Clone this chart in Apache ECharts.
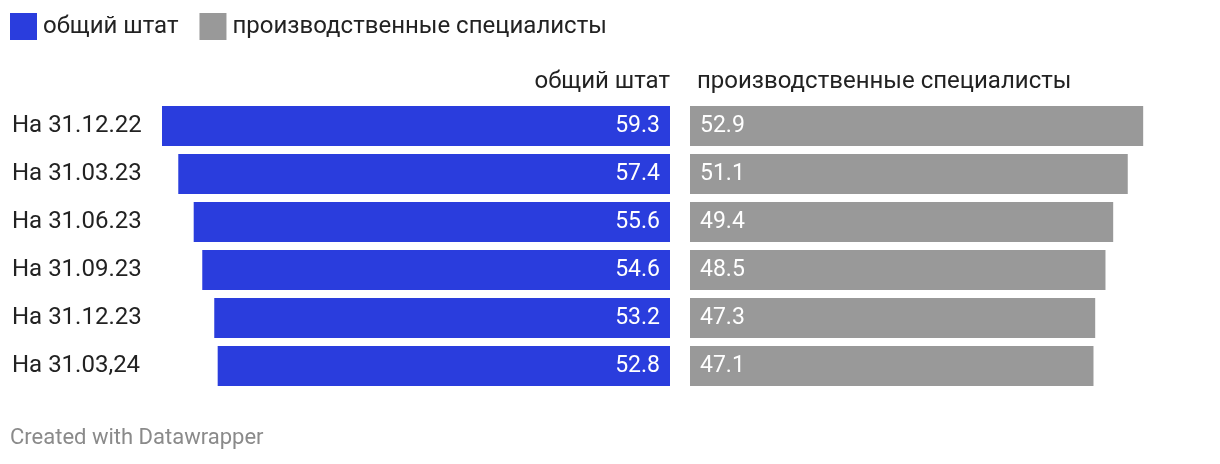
<!DOCTYPE html>
<html>
<head>
<meta charset="utf-8">
<script src="https://cdn.jsdelivr.net/npm/echarts@6/dist/echarts.min.js"></script>
<style>
html,body{margin:0;padding:0;background:#fff;}
#chart{width:1220px;height:464px;}
</style>
</head>
<body>
<div id="chart"></div>
<script>
const categories = ['На 31.12.22','На 31.03.23','На 31.06.23','На 31.09.23','На 31.12.23','На 31.03,24'];
const seriesNames = ['общий штат','производственные специалисты'];
const totalStaff = [59.3, 57.4, 55.6, 54.6, 53.2, 52.8];
const productionStaff = [52.9, 51.1, 49.4, 48.5, 47.3, 47.1];
const footerText = 'Created with Datawrapper';

const FONT = 'Roboto, "Noto Sans", sans-serif';
const BLUE = '#2a3ddd';
const GRAY = '#999999';
const maxVal = Math.max(...totalStaff, ...productionStaff);

const chart = echarts.init(document.getElementById('chart'), null, {renderer:'canvas'});
const gridTop = 102, gridH = 288, gridW = 508;

chart.setOption({
  animation: false,
  backgroundColor: '#ffffff',
  textStyle: {fontFamily: FONT},
  legend: {
    left: 10, top: 13, padding: 0,
    itemWidth: 27, itemHeight: 27, itemGap: 21,
    icon: 'rect',
    textStyle: {fontSize: 24, color: '#222', fontFamily: FONT, padding:[0,0,0,1]},
    data: seriesNames
  },
  grid: [
    {left: 162, top: gridTop, width: gridW, height: gridH},
    {left: 690, top: gridTop, width: gridW, height: gridH}
  ],
  xAxis: [
    {gridIndex: 0, type: 'value', min: 0, max: maxVal, inverse: true, show: false},
    {gridIndex: 1, type: 'value', min: 0, max: maxVal, show: false}
  ],
  yAxis: [
    {gridIndex: 0, type: 'category', data: categories, inverse: true,
     axisLine: {show: false}, axisTick: {show: false}, splitLine: {show: false},
     axisLabel: {align: 'left', margin: 150, fontSize: 24, color: '#222', fontFamily: FONT}},
    {gridIndex: 1, type: 'category', data: categories, inverse: true, show: false}
  ],
  series: [
    {name: seriesNames[0], type: 'bar', xAxisIndex: 0, yAxisIndex: 0,
     data: totalStaff, barWidth: 40, itemStyle: {color: BLUE},
     label: {show: true, position: 'insideRight', distance: 10, color: '#fff',
             fontSize: 23, fontFamily: FONT, formatter: p => p.value.toFixed(1)}},
    {name: seriesNames[1], type: 'bar', xAxisIndex: 1, yAxisIndex: 1,
     data: productionStaff, barWidth: 40, itemStyle: {color: GRAY},
     label: {show: true, position: 'insideLeft', distance: 10, color: '#fff',
             fontSize: 23, fontFamily: FONT, formatter: p => p.value.toFixed(1)}}
  ],
  graphic: [
    {type: 'text', x: 670, y: 82,
     style: {text: seriesNames[0], fontSize: 24, fill: '#222', fontFamily: FONT, textAlign: 'right', textVerticalAlign: 'middle'}},
    {type: 'text', x: 697, y: 82,
     style: {text: seriesNames[1], fontSize: 24, fill: '#222', fontFamily: FONT, textAlign: 'left', textVerticalAlign: 'middle'}},
    {type: 'text', x: 10, y: 438,
     style: {text: footerText, fontSize: 22, fill: '#8a8a8a', fontFamily: FONT, textAlign: 'left', textVerticalAlign: 'middle'}}
  ]
});
</script>
</body>
</html>
